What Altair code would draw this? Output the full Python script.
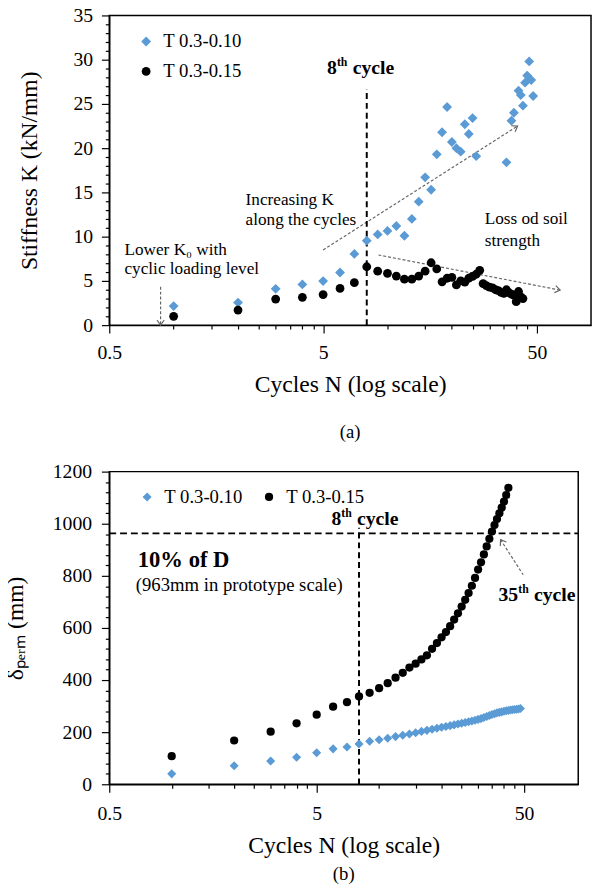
import altair as alt
import pandas as pd

FONT = "Liberation Serif"
BLUE = "#5B9BD5"
GREY = "#666666"
SERIES = ["T 0.3-0.10", "T 0.3-0.15"]

# ---------------- panel (a): stiffness K ----------------
a_blue_n = list(range(1, 27)) + [36, 38, 39, 41, 42, 43, 44, 45, 46, 47, 48]
a_blue_k = [2.15, 2.55, 4.1, 4.6, 4.98, 5.95, 8.05, 9.55, 10.25, 10.65,
            11.2, 10.1, 12.0, 13.95, 16.7, 15.3, 19.3, 21.8, 24.65, 20.7,
            20.0, 19.6, 22.7, 21.6, 23.4, 19.1,
            18.4, 23.1, 24.0, 26.5, 26.0, 24.8, 27.4, 28.2, 29.8, 27.7, 25.9]
a_black_n = list(range(1, 44))
a_black_k = [1.0, 1.7, 2.94, 3.14, 3.45, 4.15, 4.8, 6.6, 6.1, 5.85,
             5.55, 5.2, 5.2, 5.55, 6.1, 7.05, 6.35, 4.9, 5.3, 5.4,
             4.55, 5.0, 4.85, 5.3, 5.5, 5.75, 6.2, 4.7, 4.45, 4.3,
             4.2, 4.0, 3.9, 3.7, 3.6, 4.0, 3.66, 3.5, 3.4, 2.65,
             3.8, 3.2, 3.0]

# ---------------- panel (b): permanent displacement ----------------
b_blue_n = list(range(1, 49))
b_blue_d = [40, 71, 89, 104, 121, 136, 143, 155, 165, 171,
            177, 183, 188, 193, 198, 203, 207, 211, 215, 219,
            222, 225, 228, 231, 234, 237, 240, 243, 246, 249,
            252, 256, 260, 264, 268, 271, 274, 276, 278, 280,
            282, 283, 285, 286, 287, 288, 289, 291]
b_black_n = list(range(1, 43))
b_black_d = [108, 168, 202, 234, 267, 298, 315, 337, 351, 369,
             388, 409, 428, 448, 463, 479, 495, 520, 542, 564,
             584, 607, 632, 656, 682, 708, 734, 762, 792, 824,
             852, 882, 913, 942, 970, 995, 1018, 1040, 1062, 1085,
             1110, 1138]

# ---------------- ticks / domains ----------------
a_x_domain = [0.5, 89.5]
b_x_domain = [0.5, 91.2]
x_ticks = [0.5, 1, 1.5, 2, 2.5, 3, 3.5, 4, 4.5, 5,
           10, 15, 20, 25, 30, 35, 40, 45, 50]
a_y_ticks = list(range(0, 36))
b_y_ticks = list(range(0, 1201, 40))

# ---------------- annotations (a) ----------------
a_vline_n = [8, 8]
a_vline_k = [0, 26.7]
a_arrow_id = ["inc", "inc", "loss", "loss", "low", "low"]
a_arrow_n = [5.0, 40.6, 9.07, 64.2, 0.869, 0.869]
a_arrow_k = [8.5, 22.5, 7.93, 3.96, 4.34, 0.0]
a_head_n = [40.6, 64.2, 0.869]
a_head_k = [22.5, 3.96, 0.0]
a_head_angle = [328, 11, 90]
a_note_n = [2.17, 2.17, 28.5, 28.5, 0.589, 0.589]
a_note_k = [14.1, 11.9, 12.0, 9.5, 8.5, 6.3]
a_note_text = ["Increasing K", "along the cycles", "Loss od soil", "strength",
               "Lower K\u2080 with", "cyclic loading level"]
a_cycle_n = [5.22]
a_cycle_k = [29.1]

# ---------------- annotations (b) ----------------
b_hline_n = [0.5, 91.2]
b_hline_d = [963, 963]
b_vline_n = [8, 8]
b_vline_d = [0, 985]
b_arrow_n = [49.5, 38.5]
b_arrow_d = [804, 939]
b_head_n = [38.5]
b_head_d = [939]
b_head_angle = [237]
b_cycle8_n = [5.89]
b_cycle8_d = [1019]
b_cycle35_n = [37.65]
b_cycle35_d = [726]

AXIS_STYLE = dict(
    labelFont=FONT, labelFontSize=20, labelColor="black",
    titleFont=FONT, titleFontSize=24, titleFontWeight="normal", titleColor="black",
    domainColor="black", domainWidth=1.5, tickColor="black", tickWidth=1.2,
    labelOverlap=False, grid=False,
)


def tick_cond(test, big=8, small=4):
    return {"condition": {"test": test, "value": big}, "value": small}


x_major_test = "datum.value == 0.5 || datum.value == 5 || datum.value == 50"


def x_enc(domain, label_pad):
    return alt.X(
        "n:Q",
        scale=alt.Scale(type="log", domain=domain, nice=False),
        axis=alt.Axis(
            values=x_ticks, format="~g",
            labelExpr="(" + x_major_test + ") ? datum.label : ''",
            tickSize=tick_cond(x_major_test),
            labelPadding=label_pad, titlePadding=10, labelFlush=False,
            **AXIS_STYLE,
        ),
        title="Cycles N (log scale)",
    )


def text_layer(n, v, texts, yf, X, Y, size, weight="normal", dx=0, dy=0, align="left"):
    df = pd.DataFrame({"n": n, yf: v, "t": texts})
    return alt.Chart(df).mark_text(
        font=FONT, fontSize=size, fontWeight=weight, align=align,
        baseline="middle", dx=dx, dy=dy, color="black"
    ).encode(x=X, y=Y, text="t:N")


def series_enc(legend, sizes):
    return dict(
        color=alt.Color("series:N", scale=alt.Scale(domain=SERIES, range=[BLUE, "black"]), legend=legend),
        shape=alt.Shape("series:N", scale=alt.Scale(domain=SERIES, range=["diamond", "circle"]), legend=legend),
        size=alt.Size("series:N", scale=alt.Scale(domain=SERIES, range=sizes), legend=None),
    )


# ================= panel (a) =================
XA = x_enc(a_x_domain, 10)
YA = alt.Y(
    "k:Q",
    scale=alt.Scale(domain=[0, 35], nice=False),
    axis=alt.Axis(
        values=a_y_ticks, format="d",
        labelExpr="datum.value % 5 == 0 ? datum.label : ''",
        tickSize=tick_cond("datum.value % 5 == 0"),
        labelPadding=9, minExtent=39, maxExtent=39, titlePadding=30,
        **AXIS_STYLE,
    ),
    title="Stiffness K (kN/mm)",
)

a_df = pd.DataFrame({
    "n": a_blue_n + a_black_n,
    "k": a_blue_k + a_black_k,
    "series": [SERIES[0]] * len(a_blue_n) + [SERIES[1]] * len(a_black_n),
})
legend_a = alt.Legend(
    title=None, orient="none", legendX=28, legendY=17, direction="vertical",
    labelFont=FONT, labelFontSize=19, labelColor="black", symbolSize=64,
    rowPadding=10.4, labelOffset=8, padding=0, symbolStrokeWidth=0,
)
a_pts = alt.Chart(a_df).mark_point(filled=True, opacity=1, strokeWidth=0).encode(
    x=XA, y=YA, **series_enc(legend_a, [100, 80])
)
a_vline = alt.Chart(pd.DataFrame({"n": a_vline_n, "k": a_vline_k})).mark_line(
    color="black", strokeWidth=2, strokeDash=[6, 4]
).encode(x=XA, y=YA)
a_arrows = alt.Chart(pd.DataFrame({"n": a_arrow_n, "k": a_arrow_k, "id": a_arrow_id})).mark_line(
    color=GREY, strokeWidth=1.2, strokeDash=[3, 2]
).encode(x=XA, y=YA, detail="id:N")
a_heads = alt.Chart(pd.DataFrame({"n": a_head_n, "k": a_head_k, "ang": a_head_angle})).mark_point(
    shape="M-1,-0.7L0,0L-1,0.7", filled=False, size=110, color=GREY, strokeWidth=1.2, opacity=1
).encode(x=XA, y=YA, angle=alt.Angle("ang:Q", scale=None))
a_notes = text_layer(a_note_n, a_note_k, a_note_text, "k", XA, YA, 17.5)
a_c1 = text_layer(a_cycle_n, a_cycle_k, ["8"], "k", XA, YA, 20, "bold")
a_c2 = text_layer(a_cycle_n, a_cycle_k, ["th"], "k", XA, YA, 12, "bold", dx=10, dy=-6)
a_c3 = text_layer(a_cycle_n, a_cycle_k, ["cycle"], "k", XA, YA, 20, "bold", dx=26)

top = alt.layer(a_arrows, a_heads, a_vline, a_pts, a_notes, a_c1, a_c2, a_c3).properties(
    width=490, height=315,
    title=alt.TitleParams("(a)", orient="bottom", font=FONT, fontSize=19,
                          fontWeight="normal", color="black", offset=28),
)

# ================= panel (b) =================
XB = x_enc(b_x_domain, 12)
YB = alt.Y(
    "d:Q",
    scale=alt.Scale(domain=[0, 1200], nice=False),
    axis=alt.Axis(
        values=b_y_ticks, format="d",
        labelExpr="datum.value % 200 == 0 ? datum.label : ''",
        tickSize=tick_cond("datum.value % 200 == 0"),
        labelPadding=10, minExtent=59, maxExtent=59, titlePadding=24,
        **AXIS_STYLE,
    ),
    title="\u03b4\u209a\u2091\u1d63\u2098 (mm)",
)
b_df = pd.DataFrame({
    "n": b_blue_n + b_black_n,
    "d": b_blue_d + b_black_d,
    "series": [SERIES[0]] * len(b_blue_n) + [SERIES[1]] * len(b_black_n),
})
legend_b = alt.Legend(
    title=None, orient="none", legendX=29, legendY=16, direction="horizontal",
    labelFont=FONT, labelFontSize=19, labelColor="black", symbolSize=64,
    columnPadding=17, labelOffset=8, padding=0, symbolStrokeWidth=0,
)
b_pts = alt.Chart(b_df).mark_point(filled=True, opacity=1, strokeWidth=0).encode(
    x=XB, y=YB, **series_enc(legend_b, [85, 70])
)
b_hline = alt.Chart(pd.DataFrame({"n": b_hline_n, "d": b_hline_d})).mark_line(
    color="black", strokeWidth=2, strokeDash=[7, 4]
).encode(x=XB, y=YB)
b_vline = alt.Chart(pd.DataFrame({"n": b_vline_n, "d": b_vline_d})).mark_line(
    color="black", strokeWidth=2, strokeDash=[6, 4]
).encode(x=XB, y=YB)
b_arrow = alt.Chart(pd.DataFrame({"n": b_arrow_n, "d": b_arrow_d})).mark_line(
    color=GREY, strokeWidth=1.2, strokeDash=[3, 2]
).encode(x=XB, y=YB)
b_head = alt.Chart(pd.DataFrame({"n": b_head_n, "d": b_head_d, "ang": b_head_angle})).mark_point(
    shape="M-1,-0.7L0,0L-1,0.7", filled=False, size=110, color=GREY, strokeWidth=1.2, opacity=1
).encode(x=XB, y=YB, angle=alt.Angle("ang:Q", scale=None))
b_tenpct = text_layer([0.686], [861], ["10% of D"], "d", XB, YB, 23, "bold")
b_proto = text_layer([0.671], [765], ["(963mm in prototype scale)"], "d", XB, YB, 19)
b_c1 = text_layer(b_cycle8_n, b_cycle8_d, ["8"], "d", XB, YB, 20, "bold")
b_c2 = text_layer(b_cycle8_n, b_cycle8_d, ["th"], "d", XB, YB, 12, "bold", dx=10, dy=-6)
b_c3 = text_layer(b_cycle8_n, b_cycle8_d, ["cycle"], "d", XB, YB, 20, "bold", dx=26)
b_d1 = text_layer(b_cycle35_n, b_cycle35_d, ["35"], "d", XB, YB, 20, "bold")
b_d2 = text_layer(b_cycle35_n, b_cycle35_d, ["th"], "d", XB, YB, 12, "bold", dx=20, dy=-6)
b_d3 = text_layer(b_cycle35_n, b_cycle35_d, ["cycle"], "d", XB, YB, 20, "bold", dx=36)

bottom = alt.layer(b_hline, b_vline, b_arrow, b_head, b_pts, b_tenpct, b_proto,
                   b_c1, b_c2, b_c3, b_d1, b_d2, b_d3).properties(
    width=477, height=318,
    title=alt.TitleParams("(b)", orient="bottom", font=FONT, fontSize=19,
                          fontWeight="normal", color="black", offset=8),
)

chart = alt.ConcatChart(
    concat=[top, bottom], columns=1, spacing=18, align="none",
    padding={"left": -5, "top": -11, "right": 0, "bottom": 0},
).resolve_scale(
    color="independent", shape="independent", size="independent"
).resolve_legend(
    color="independent", shape="independent"
).configure_view(
    stroke="black", strokeWidth=1.5
)

chart.save("out.html", embed_options={"renderer": "svg", "actions": False})
